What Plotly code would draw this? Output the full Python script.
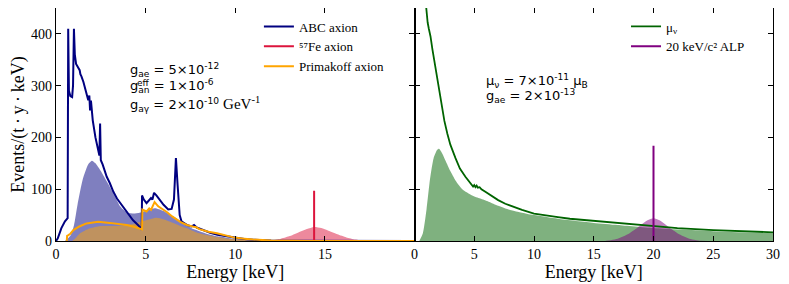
import plotly.graph_objects as go

# ---------------- data ----------------
abc_E = [0.0, 0.1, 0.3, 0.5, 0.65, 0.68, 0.72, 0.8, 0.9, 0.95, 1.0, 1.05, 1.12, 1.25, 1.32, 1.36, 1.42, 1.53, 1.65, 1.8, 1.86, 1.9, 1.95, 2.0, 2.05, 2.2, 2.36, 2.42, 2.46, 2.5, 2.6, 2.83, 3.0, 3.2, 3.4, 3.76, 4.0, 4.3, 4.6, 4.78, 4.8, 4.9, 5.05, 5.2, 5.3, 5.38, 5.47, 5.6, 5.8, 6.0, 6.26, 6.45, 6.58, 6.69, 6.78, 6.9, 7.0, 7.3, 7.55, 7.7, 7.85, 8.2, 8.6, 9.0, 9.5, 10.0, 10.5, 11.0, 11.5, 12.0, 13.0, 14.0, 15.0, 20.0]
abc_y = [0, 5, 25, 38, 44, 410, 290, 280, 278, 300, 410, 360, 342, 333, 330, 322, 318, 307, 290, 272, 281, 252, 271, 240, 233, 200, 170, 165, 227, 156, 148, 124, 112, 95, 82, 66, 55, 40, 30, 22, 88, 80, 73, 80, 83, 80, 93, 88, 78, 70, 61, 62, 80, 160, 110, 50, 38, 31, 28, 31, 26, 21, 16, 12, 9, 6, 4, 2.5, 1.5, 0.8, 0.3, 0.1, 0, 0]

abc_fill_E = [0.5, 0.8, 1.0, 1.2, 1.5, 1.8, 2.0, 2.2, 2.5, 2.8, 3.0, 3.3, 3.6, 3.95, 4.4, 4.8, 5.2, 5.6, 6.0, 6.4, 6.8, 7.2, 7.66, 8.0, 8.5, 9.0, 9.5, 10.0, 10.5, 11.0, 11.5, 12.0, 13.0]
abc_fill_y = [0, 10, 30, 70, 120, 148, 155, 150, 135, 117, 105, 85, 66, 55, 53, 56, 61, 63, 58, 50, 42, 33, 23, 19, 13, 9, 6.5, 4.5, 3, 2, 1, 0.5, 0]

prim_E = [0.6, 0.62, 0.69, 0.8, 0.97, 1.3, 1.7, 2.35, 3.0, 3.5, 3.95, 4.4, 4.7, 4.8, 4.82, 5.05, 5.2, 5.3, 5.5, 5.7, 6.18, 6.5, 6.93, 7.3, 7.67, 7.8, 8.0, 8.5, 8.98, 9.9, 10.5, 11.0, 12.0, 13.0, 14.0, 20.0]
prim_y = [0, 10, 11.5, 14, 21, 28, 34, 37, 35, 33, 31, 27, 23, 22.5, 60.7, 57, 63, 60, 75, 67, 56, 47, 37, 31, 27.6, 27, 23, 18, 14.8, 7, 4.5, 2.8, 1, 0.3, 0, 0]

prim_fill_E = [0.9, 1.1, 1.34, 1.6, 1.9, 2.46, 3.0, 3.4, 3.9, 4.32, 4.7, 5.07, 5.6, 6.0, 6.37, 6.8, 7.3, 7.8, 8.4, 9.0, 9.5, 10.2, 11.0, 12.0]
prim_fill_y = [0, 6, 15, 20, 24.5, 29, 29, 29, 31, 33, 37, 40.5, 45, 42, 37, 31, 24.5, 17, 11.5, 7.5, 5, 3, 1, 0]

fe_line_E = [14.4, 14.4]
fe_line_y = [0, 97]
fe_fill_E = [11.5, 12.0, 12.5, 13.0, 13.5, 14.0, 14.4, 14.8, 15.2, 15.7, 16.2, 16.7, 17.2, 17.7, 18.2]
fe_fill_y = [0.3, 1.5, 4, 9, 16, 23, 27, 25, 20, 13, 7, 3, 1.2, 0.3, 0]

mu_E = [0.55, 0.7, 0.8, 0.9, 1.0, 1.1, 1.2, 1.34, 1.5, 1.75, 2.0, 2.2, 2.5, 2.75, 3.0, 3.43, 3.8, 4.26, 4.6, 4.8, 4.9, 5.0, 5.1, 5.2, 5.3, 5.45, 5.6, 5.93, 6.5, 7.0, 7.6, 8.5, 9.0, 10.0, 11.0, 12.0, 13.0, 15.0, 17.0, 20.0, 22.0, 25.0, 27.5, 30.0]
mu_y = [700, 560, 510, 470, 440, 422, 410, 395, 370, 336, 295, 268, 232, 207, 186, 160, 140, 124, 114, 108, 105, 108, 104, 107, 103, 104, 100, 95, 86, 79, 72, 64, 60, 53, 49, 46, 43, 39, 34, 28, 25, 21, 19, 16.7]

mu_fill_E = [0.4, 0.7, 1.0, 1.3, 1.6, 1.9, 2.05, 2.3, 2.6, 3.0, 3.43, 4.0, 4.82, 5.5, 6.2, 7.0, 7.6, 8.5, 10.0, 12.0, 15.0, 17.0, 20.0, 25.0, 30.0]
mu_fill_y = [0, 15, 60, 120, 160, 176, 178, 170, 155, 135, 117, 100, 88, 82, 76, 68, 63, 57, 50, 43, 35, 31, 25, 19, 15]

alp_line_E = [20.0, 20.0]
alp_line_y = [0, 184]
alp_fill_E = [16.0, 16.5, 17.0, 17.5, 18.0, 18.5, 19.0, 19.5, 20.0, 20.5, 21.0, 21.5, 22.0, 22.5, 23.0, 23.5, 24.0, 24.5]
alp_fill_y = [0.5, 2, 4.5, 9, 15, 23, 32, 40, 44, 40, 32, 23, 15, 9, 4.5, 2, 0.5, 0]

left_ticks = [0, 5, 10, 15]
right_ticks = [0, 5, 10, 15, 20, 25, 30]
y_ticks = [0, 100, 200, 300, 400]

SERIF = "Liberation Serif"
SANS = "DejaVu Sans"

fig = go.Figure()

def fill(x, y, color, xa="x", ya="y"):
    fig.add_trace(go.Scatter(x=x, y=y, mode="lines", fill="tozeroy", fillcolor=color,
                             line=dict(width=0, shape="spline", smoothing=0.6), showlegend=False,
                             hoverinfo="skip", xaxis=xa, yaxis=ya))

def line(x, y, color, name, legend, xa="x", ya="y", width=2):
    fig.add_trace(go.Scatter(x=x, y=y, mode="lines", name=name, line=dict(color=color, width=width),
                             legend=legend, xaxis=xa, yaxis=ya))

# left panel
fill(abc_fill_E, abc_fill_y, "rgba(0,0,128,0.5)")
fill(prim_fill_E, prim_fill_y, "rgba(255,165,0,0.5)")
fill(fe_fill_E, fe_fill_y, "rgba(220,20,60,0.5)")
line(abc_E, abc_y, "#000080", "ABC axion", "legend")
line(fe_line_E, fe_line_y, "#DC143C", "⁵⁷Fe axion", "legend")
line(prim_E, prim_y, "#FFA500", "Primakoff axion", "legend")

# right panel
fill(mu_fill_E, mu_fill_y, "rgba(0,100,0,0.5)", "x2", "y2")
fill(alp_fill_E, alp_fill_y, "rgba(128,0,128,0.5)", "x2", "y2")
line(mu_E, mu_y, "#006400", "μ<sub>ν</sub>", "legend2", "x2", "y2", width=1.8)
line(alp_line_E, alp_line_y, "#800080", "20 keV/c² ALP", "legend2", "x2", "y2")

axis_common = dict(showline=True, linecolor="black", linewidth=1.2, mirror="ticks", ticks="inside",
                   ticklen=5, tickwidth=1.2, tickcolor="black", showgrid=False, zeroline=False,
                   automargin=False,
                   tickfont=dict(family=SERIF, size=14, color="black"))

title_font = dict(family=SERIF, size=18, color="black")

# the page body adds an 8px offset, margins compensate for it
fig.update_layout(
    width=789, height=284,
    margin=dict(l=48, r=24, t=0, b=51, autoexpand=False),
    paper_bgcolor="white", plot_bgcolor="white",
    font=dict(family=SERIF, size=13, color="black"),
    xaxis=dict(domain=[0, 0.5], range=[0, 20], tickvals=left_ticks, anchor="y",
               title=dict(text="Energy [keV]", font=title_font, standoff=0), **axis_common),
    xaxis2=dict(domain=[0.5, 1], range=[0, 30], tickvals=right_ticks, anchor="y2",
                title=dict(text="Energy [keV]", font=title_font, standoff=0), **axis_common),
    yaxis=dict(range=[0, 450], tickvals=y_ticks, anchor="x",
               title=dict(text="Events/(t\u2009·\u2009y\u2009·\u2009keV)", font=title_font, standoff=4), **axis_common),
    yaxis2=dict(range=[0, 450], tickvals=y_ticks, anchor="x2", matches="y", showticklabels=False, **axis_common),
    legend=dict(x=0.283, y=0.985, xanchor="left", yanchor="top", bgcolor="rgba(0,0,0,0)",
                font=dict(family=SERIF, size=13), tracegroupgap=0),
    legend2=dict(x=0.795, y=0.985, xanchor="left", yanchor="top", bgcolor="rgba(0,0,0,0)",
                 font=dict(family=SERIF, size=13), tracegroupgap=0),
)

ann_font = dict(family=SANS, size=13, color="black")
left_ann = [
    "g<sub>ae</sub> = 5×10<sup>-12</sup>",
    "g<sub>an</sub> = 1×10<sup>-6</sup>",
    "g<sub>aγ</sub> = 2×10<sup>-10</sup> <span style='font-family:Liberation Serif;font-size:15px'>GeV<sup>-1</sup></span>",
]
left_ann_y = [330, 299, 265]
for t, yy in zip(left_ann, left_ann_y):
    fig.add_annotation(x=4.0, y=yy, xref="x", yref="y", text=t, showarrow=False, xanchor="left",
                       yanchor="middle", font=ann_font)
fig.add_annotation(x=4.4, y=305, xref="x", yref="y", text="eff", showarrow=False, xanchor="left",
                   yanchor="middle", font=dict(family=SANS, size=9, color="black"))
right_ann = [
    "μ<sub>ν</sub> = 7×10<sup>-11</sup> μ<sub>B</sub>",
    "g<sub>ae</sub> = 2×10<sup>-13</sup>",
]
right_ann_y = [309, 280]
for t, yy in zip(right_ann, right_ann_y):
    fig.add_annotation(x=5.8, y=yy, xref="x2", yref="y2", text=t, showarrow=False, xanchor="left",
                       yanchor="middle", font=ann_font)

fig.write_html("out.html")
